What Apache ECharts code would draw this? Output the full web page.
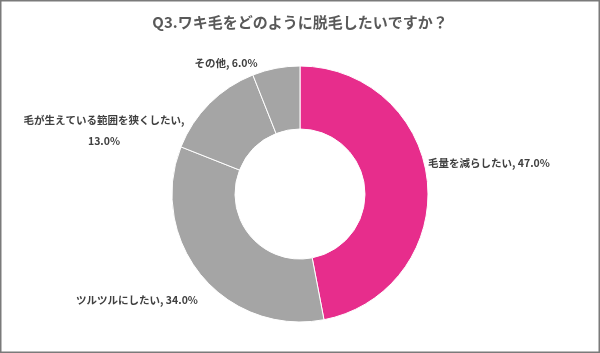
<!DOCTYPE html>
<html>
<head>
<meta charset="utf-8">
<script src="https://cdn.jsdelivr.net/npm/echarts@6/dist/echarts.min.js"></script>
<style>
html,body{margin:0;padding:0;background:#fff;}
#chart{width:600px;height:353px;}
</style>
</head>
<body>
<div id="chart"></div>
<script>
const titleText = 'Q3.ワキ毛をどのように脱毛したいですか？';
const categories = ['毛量を減らしたい', 'ツルツルにしたい', '毛が生えている範囲を狭くしたい', 'その他'];
const values = [47.0, 34.0, 13.0, 6.0];
const colors = ['#E72D8C', '#A5A5A5', '#A5A5A5', '#A5A5A5'];

// label anchor positions (layout only)
const labelPos = [
  {x: 428, y: 163, align: 'left'},
  {x: 137, y: 300, align: 'center'},
  {x: 104, y: 131, align: 'center'},
  {x: 226, y: 63, align: 'center'}
];

const chart = echarts.init(document.getElementById('chart'), null, {renderer: 'canvas'});
const FONT = '"Noto Sans CJK JP", "Noto Sans", sans-serif';

chart.setOption({
  backgroundColor: '#fff',
  animation: false,
  title: {
    text: titleText,
    left: 'center',
    top: 10,
    textStyle: {fontFamily: FONT, fontSize: 15, fontWeight: 'bold', color: '#595959'}
  },
  graphic: [{
    type: 'rect',
    shape: {x: 0.75, y: 0.75, width: 598.5, height: 351.5},
    style: {fill: 'none', stroke: '#7a7a7a', lineWidth: 1.5},
    silent: true
  }],
  series: [{
    type: 'pie',
    center: [300, 194],
    radius: [65, 128],
    startAngle: 90,
    clockwise: true,
    itemStyle: {borderColor: '#fff', borderWidth: 1},
    label: {
      show: true,
      position: 'outside',
      overflow: 'none',
      fontFamily: FONT,
      fontSize: 10.5,
      fontWeight: 'bold',
      color: '#404040',
      lineHeight: 21,
      formatter: function (p) {
        const v = p.value.toFixed(1) + '%';
        if (p.dataIndex === 2) return p.name + ',\n' + v;
        return p.name + ', ' + v;
      }
    },
    labelLine: {show: false},
    labelLayout: function (params) {
      const lp = labelPos[params.dataIndex];
      return {x: lp.x, y: lp.y, align: lp.align, verticalAlign: 'middle'};
    },
    data: categories.map((c, i) => ({name: c, value: values[i], itemStyle: {color: colors[i]}}))
  }]
});
</script>
</body>
</html>
